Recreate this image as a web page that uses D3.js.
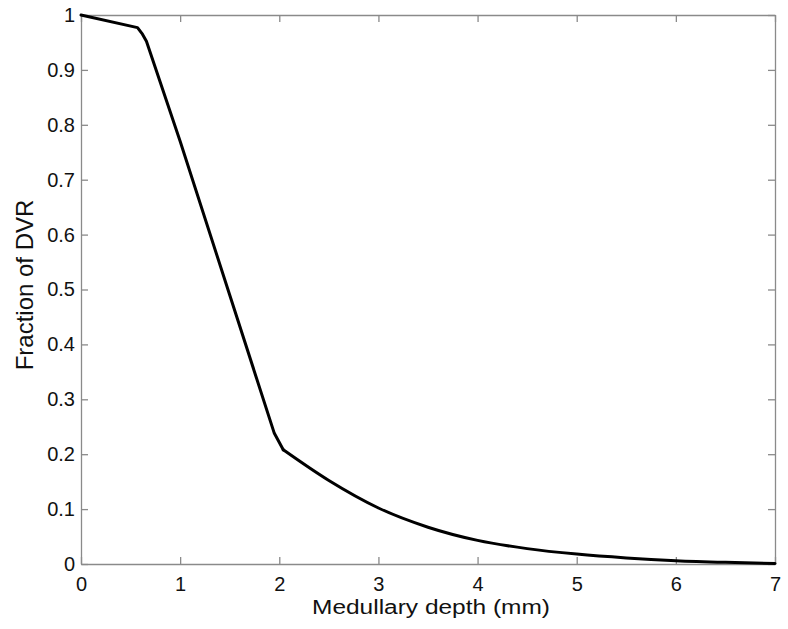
<!DOCTYPE html>
<html>
<head>
<meta charset="utf-8">
<script src="https://cdn.jsdelivr.net/npm/d3@7"></script>
<style>
  body { margin: 0; background: #fff; }
  svg text { font-family: "Liberation Sans", Arial, sans-serif; fill: #111; }
</style>
</head>
<body>
<div id="chart"></div>
<script>
const WIDTH = 788
const HEIGHT = 629

// data
const depth = [0, 0.57, 0.62, 0.66, 1.0, 1.5, 1.95, 2.04, 2.5, 3.0, 3.5, 4.0, 4.5, 5.0, 5.5, 6.0, 6.5, 7.0]
const fraction = [1.0, 0.977, 0.965, 0.952, 0.77, 0.49, 0.238, 0.208, 0.152, 0.102, 0.067, 0.043, 0.028, 0.018, 0.011, 0.006, 0.003, 0.001]
const xTicks = [0, 1, 2, 3, 4, 5, 6, 7]
const yTicks = [0, 0.1, 0.2, 0.3, 0.4, 0.5, 0.6, 0.7, 0.8, 0.9, 1]

const margin = { top: 15, right: 13, bottom: 65, left: 81 }
const w = WIDTH - margin.left - margin.right
const h = HEIGHT - margin.top - margin.bottom

const svg = d3.select("#chart")
    .append("svg")
    .attr("width", WIDTH)
    .attr("height", HEIGHT)

const g = svg.append("g")
    .attr("transform", `translate(${margin.left},${margin.top})`)

const x = d3.scaleLinear().domain([0, 7]).range([0, w])
const y = d3.scaleLinear().domain([0, 1]).range([h, 0])

const axisColor = "#8a8a8a"
const fmt = d => d === 0 ? "0" : d3.format("~g")(d)

// bottom + left axes with labels, ticks inside
const xAxis = g.append("g")
    .attr("transform", `translate(0,${h})`)
    .call(d3.axisBottom(x).tickValues(xTicks).tickFormat(fmt).tickSizeInner(-7).tickSizeOuter(0).tickPadding(13))
const yAxis = g.append("g")
    .call(d3.axisLeft(y).tickValues(yTicks).tickFormat(fmt).tickSizeInner(-7).tickSizeOuter(0).tickPadding(6))

// top + right, ticks only
const xTop = g.append("g")
    .call(d3.axisTop(x).tickValues(xTicks).tickFormat("").tickSizeInner(-7).tickSizeOuter(0))
const yRight = g.append("g")
    .attr("transform", `translate(${w},0)`)
    .call(d3.axisRight(y).tickValues(yTicks).tickFormat("").tickSizeInner(-7).tickSizeOuter(0))

for (const a of [xAxis, yAxis, xTop, yRight]) {
    a.selectAll("path, line").attr("stroke", axisColor).attr("stroke-width", 1.3)
    a.selectAll("text").attr("font-size", 20).attr("fill", "#111")
}

// the curve: straight pieces up to the kink at ~2 mm, smooth decay after it
const pts = depth.map((d, i) => [d, fraction[i]])
const kink = depth.indexOf(2.04)
const line = d3.line().x(d => x(d[0])).y(d => y(d[1]))

g.append("path")
    .datum(pts.slice(0, kink + 1))
    .attr("fill", "none")
    .attr("stroke", "#000")
    .attr("stroke-width", 3)
    .attr("stroke-linejoin", "round")
    .attr("stroke-linecap", "round")
    .attr("d", line)

g.append("path")
    .datum(pts.slice(kink))
    .attr("fill", "none")
    .attr("stroke", "#000")
    .attr("stroke-width", 3)
    .attr("stroke-linecap", "round")
    .attr("d", line.curve(d3.curveMonotoneX))

// axis titles
svg.append("text")
    .attr("x", margin.left + w / 2 + 3)
    .attr("y", 614)
    .attr("text-anchor", "middle")
    .attr("font-size", 20)
    .attr("textLength", 238)
    .attr("lengthAdjust", "spacingAndGlyphs")
    .text("Medullary depth (mm)")

svg.append("text")
    .attr("transform", "translate(33,285) rotate(-90)")
    .attr("text-anchor", "middle")
    .attr("font-size", 24)
    .text("Fraction of DVR")
</script>
</body>
</html>
